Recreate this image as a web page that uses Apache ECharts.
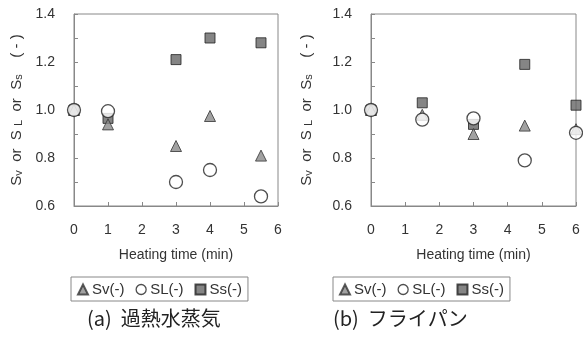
<!DOCTYPE html>
<html><head><meta charset="utf-8">
<script src="https://cdn.jsdelivr.net/npm/echarts@6/dist/echarts.min.js"></script>
<style>html,body{margin:0;padding:0;background:#fff}#c{width:583px;height:338px}</style>
</head><body><div id="c"></div>
<script>
const timeA = [0, 1, 3, 4, 5.5];
const svA = [1.00, 0.94, 0.85, 0.975, 0.81];
const slA = [1.00, 0.995, 0.70, 0.75, 0.64];
const ssA = [1.00, 0.965, 1.21, 1.30, 1.28];
const timeB = [0, 1.5, 3, 4.5, 6];
const svB = [1.00, 0.98, 0.90, 0.935, 0.92];
const slB = [1.00, 0.96, 0.965, 0.79, 0.905];
const ssB = [1.00, 1.03, 0.94, 1.19, 1.02];
const seriesNames = ['Sv(-)', 'SL(-)', 'Ss(-)'];
const captions = ['(a)  過熱水蒸気', '(b)  フライパン'];
const xName = 'Heating time (min)';

const pair = (xs, ys) => xs.map((x, i) => [x, ys[i]]);
const font = '"Liberation Sans", Arial, sans-serif';
const styles = [
  {symbol: 'triangle', symbolSize: 11, itemStyle: {color: '#8a8a8a', borderColor: '#333', borderWidth: 1}},
  {symbol: 'circle', symbolSize: 13, itemStyle: {color: '#fff', borderColor: '#222', borderWidth: 1.3}},
  {symbol: 'rect', symbolSize: 10, itemStyle: {color: '#666', borderColor: '#222', borderWidth: 1}}
];
const grids = [
  {left: 74, top: 14, width: 204, height: 192, show: true, borderColor: '#888', borderWidth: 1},
  {left: 371, top: 14, width: 205, height: 192, show: true, borderColor: '#888', borderWidth: 1}
];
const mkX = (g) => ({
  type: 'value', gridIndex: g, min: 0, max: 6, interval: 1,
  name: xName, nameLocation: 'middle', nameGap: 42,
  nameTextStyle: {fontFamily: font, fontSize: 14, color: '#333'},
  axisLine: {show: true, lineStyle: {color: '#888'}},
  axisTick: {inside: true, length: 4, lineStyle: {color: '#888'}},
  axisLabel: {fontFamily: font, fontSize: 14, color: '#333', margin: 17},
  splitLine: {show: false}
});
const mkY = (g) => ({
  type: 'value', gridIndex: g, min: 0.6, max: 1.4, interval: 0.2,
  name: '{t|S}{s|v}{t|  or  S }{s|L}{t|  or  S}{s|s}{t|    ( - )}', nameLocation: 'middle', nameGap: [50, 57][g],
  nameTextStyle: {rich: {t: {fontFamily: font, fontSize: 15, color: '#333'}, s: {fontFamily: font, fontSize: 11, color: '#333', verticalAlign: 'bottom'}}},
  axisLine: {show: true, lineStyle: {color: '#888'}},
  axisTick: {inside: true, length: 4, lineStyle: {color: '#888'}},
  minorTick: {show: true, splitNumber: 2, length: 4, lineStyle: {color: '#888'}},
  axisLabel: {fontFamily: font, fontSize: 14, color: '#333', margin: 19, formatter: v => v.toFixed(1)},
  splitLine: {show: false}
});
const data = [[svA, slA, ssA], [svB, slB, ssB]];
const times = [timeA, timeB];
const series = [];
for (let g = 0; g < 2; g++) {
  for (let k = 0; k < 3; k++) {
    series.push(Object.assign({
      type: 'scatter', name: seriesNames[k], xAxisIndex: g, yAxisIndex: g,
      data: pair(times[g], data[g][k]), z: 3 + (k === 2 ? 0 : k === 1 ? 2 : 1)
    }, styles[k]));
  }
}
const legendBase = {
  data: [
    {name: seriesNames[0], icon: 'triangle'},
    {name: seriesNames[1], icon: 'circle', itemStyle: {color: '#fff', borderColor: '#222', borderWidth: 1.3}},
    {name: seriesNames[2], icon: 'rect'}
  ],
  top: 277, itemWidth: 10, itemHeight: 10, itemGap: 11,
  borderColor: '#888', borderWidth: 1, padding: [5, 6, 4, 6],
  textStyle: {fontFamily: font, fontSize: 15, color: '#333', padding: [0, 0, 0, -1]},
  selectedMode: false
};
const chart = echarts.init(document.getElementById('c'));
chart.setOption({
  animation: false,
  grid: grids,
  xAxis: [mkX(0), mkX(1)],
  yAxis: [mkY(0), mkY(1)],
  legend: [Object.assign({left: 71}, legendBase), Object.assign({left: 333}, legendBase)],
  series: series,
  graphic: [
    {type: 'text', left: 87, top: 308, style: {text: captions[0], font: '20px "Noto Sans CJK JP"', fill: '#222'}},
    {type: 'text', left: 333, top: 308, style: {text: captions[1], font: '20px "Noto Sans CJK JP"', fill: '#222'}}
  ]
});
</script></body></html>
